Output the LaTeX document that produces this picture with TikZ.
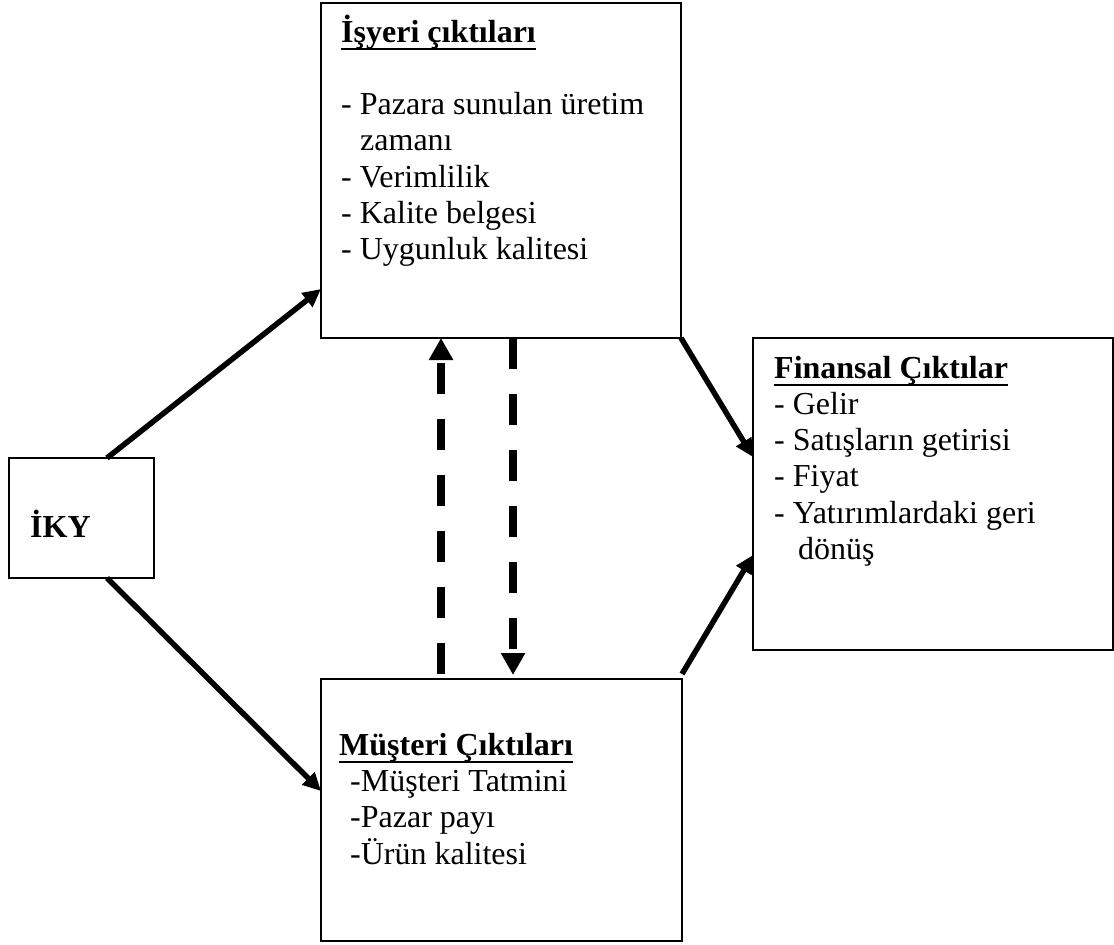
\documentclass[tikz,border=0pt]{standalone}
\usepackage{fontspec}
\setmainfont{Liberation Serif}
\usetikzlibrary{arrows.meta}
\newcommand\myul[1]{\setbox0\hbox{#1}\rlap{\rule[-8pt]{\wd0}{1.6pt}}\box0}
\tikzset{
  box/.style={draw, line width=1.5pt, inner sep=0pt, outer sep=0pt},
  txt/.style={anchor=base west, inner sep=0pt, font=\fontsize{32}{36.3}\selectfont},
  arr/.style={line width=5.5pt, -{Triangle[length=18pt,width=17pt]}},
  darr/.style={line width=7.5pt, dash pattern=on 31pt off 25pt, -{Triangle[length=22pt,width=23pt]}}
}
\begin{document}
\begin{tikzpicture}[x=1pt,y=-1pt]
\useasboundingbox (0,0) rectangle (1114,945);
% boxes
\node[box, minimum width=145pt, minimum height=120pt] (iky) at (81.5,518) {};
\node[box, minimum width=360pt, minimum height=335pt] (isy) at (501,170.5) {};
\node[box, minimum width=360pt, minimum height=312pt] (fin) at (933,494) {};
\node[box, minimum width=361pt, minimum height=262pt] (mus) at (501.5,810) {};
% texts
\node[txt] (ikyt) at (30,537) {\textbf{İKY}};
\node[txt] (isyt) at (341,42) {\begin{tabular}[t]{@{}l@{}}
\myul{\textbf{İşyeri çıktıları}}\\
\\
- Pazara sunulan üretim\\
\hspace*{19pt}zamanı\\
- Verimlilik\\
- Kalite belgesi\\
- Uygunluk kalitesi
\end{tabular}};
\node[txt] (fint) at (774,378) {\begin{tabular}[t]{@{}l@{}}
\myul{\textbf{Finansal Çıktılar}}\\
- Gelir\\
- Satışların getirisi\\
- Fiyat\\
- Yatırımlardaki geri\\
\hspace*{24pt}dönüş
\end{tabular}};
\node[txt] (must) at (339,755) {\begin{tabular}[t]{@{}l@{}}
\myul{\textbf{Müşteri Çıktıları}}\\
\hspace*{11pt}-Müşteri Tatmini\\
\hspace*{11pt}-Pazar payı\\
\hspace*{11pt}-Ürün kalitesi
\end{tabular}};
% connectors
\draw[arr] ([xshift=98pt]iky.north west) -- ([yshift=-118.5pt]isy.west);
\draw[arr] ([xshift=98pt]iky.south west) -- ([yshift=19pt]mus.west);
\draw[arr] (isy.south east) -- ([yshift=37pt]fin.west);
\draw[arr] ([yshift=5pt]mus.north east) -- ([yshift=-61pt]fin.west);
\draw[darr] ([xshift=-60.5pt,yshift=5pt]mus.north) -- ([xshift=-60pt]isy.south);
\draw[darr] ([xshift=12pt]isy.south) -- ([xshift=11.5pt,yshift=4pt]mus.north);
\end{tikzpicture}
\end{document}
